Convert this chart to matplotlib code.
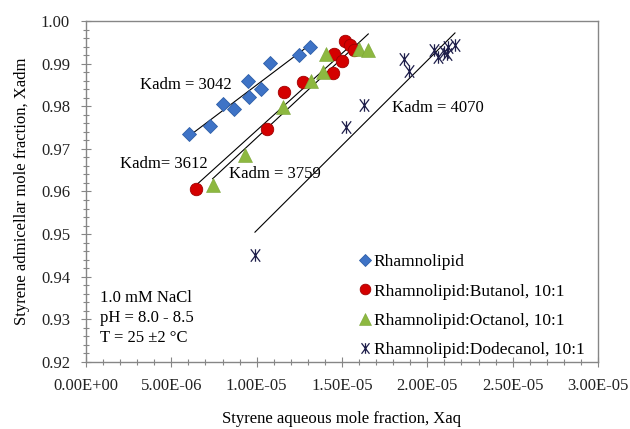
import numpy as np
import matplotlib
matplotlib.use('Agg')
import matplotlib.pyplot as plt
from matplotlib.path import Path
from matplotlib.ticker import MultipleLocator, FormatStrFormatter

# styrene aqueous (x) and admicellar (y) mole fractions
xaq_rl = [6.06e-6, 7.28e-6, 8.01e-6, 8.65e-6, 9.51e-6, 9.57e-6, 1.028e-5, 1.081e-5, 1.250e-5, 1.311e-5]
xadm_rl = [0.9735, 0.9754, 0.9805, 0.9793, 0.9860, 0.9821, 0.9841, 0.9901, 0.9921, 0.9940]

xaq_but = [6.44e-6, 1.063e-5, 1.160e-5, 1.273e-5, 1.449e-5, 1.453e-5, 1.498e-5, 1.517e-5, 1.547e-5, 1.573e-5]
xadm_but = [0.9607, 0.9747, 0.9833, 0.9858, 0.9878, 0.9923, 0.9906, 0.9954, 0.9944, 0.9931]

xaq_oct = [7.42e-6, 9.32e-6, 1.156e-5, 1.318e-5, 1.391e-5, 1.409e-5, 1.600e-5, 1.654e-5]
xadm_oct = [0.9615, 0.9686, 0.9798, 0.9859, 0.9880, 0.9923, 0.9934, 0.9933]

xaq_dod = [9.90e-6, 1.523e-5, 1.631e-5, 1.863e-5, 1.894e-5, 2.039e-5, 2.064e-5, 2.095e-5, 2.113e-5, 2.123e-5, 2.162e-5]
xadm_dod = [0.9451, 0.9751, 0.9803, 0.9911, 0.9883, 0.9931, 0.9916, 0.9928, 0.9923, 0.9940, 0.9944]

labels = ['Rhamnolipid', 'Rhamnolipid:Butanol, 10:1',
          'Rhamnolipid:Octanol, 10:1', 'Rhamnolipid:Dodecanol, 10:1']
kadm_text = ['Kadm = 3042', 'Kadm= 3612', 'Kadm = 3759', 'Kadm = 4070']
kadm_pos = [(3.16e-6, 0.9850), (1.99e-6, 0.9665), (8.38e-6, 0.9641), (1.793e-5, 0.9796)]
conditions = ['1.0 mM NaCl', 'pH = 8.0 - 8.5', 'T = 25 \u00b12 \u00b0C']

plt.rcParams['font.family'] = ['Liberation Serif', 'DejaVu Serif']

# excel style star marker: an X with a vertical bar
star = Path([(-0.75, -1), (0.75, 1), (-0.75, 1), (0.75, -1), (0, -1), (0, 1)],
            [Path.MOVETO, Path.LINETO, Path.MOVETO, Path.LINETO, Path.MOVETO, Path.LINETO])


def trendline(ax, x, y):
    # linear fit drawn over the data range
    k, b = np.polyfit(x, y, 1)
    xs = np.array([min(x), max(x)])
    ax.plot(xs, k * xs + b, color='black', lw=0.8, zorder=2)


fig = plt.figure(figsize=(6.3, 4.29), dpi=100)
ax = fig.add_axes([0.1365, 0.1562, 0.8127, 0.7949])

series = [(xaq_rl, xadm_rl), (xaq_but, xadm_but), (xaq_oct, xadm_oct), (xaq_dod, xadm_dod)]
for x, y in series:
    trendline(ax, x, y)

ax.plot(xaq_rl, xadm_rl, ls='none', marker='D', ms=7, mfc='#3E73C6', mec='#2E5EA8',
        mew=0.6, label=labels[0], zorder=3)
ax.plot(xaq_but, xadm_but, ls='none', marker='o', ms=9, mfc='#D40000', mec='#A00000',
        mew=0.6, label=labels[1], zorder=3)
ax.plot(xaq_oct, xadm_oct, ls='none', marker='^', ms=9.5, mfc='#8DB840', mec='#7AA535',
        mew=0.4, label=labels[2], zorder=3)
ax.plot(xaq_dod, xadm_dod, ls='none', marker=star, ms=9, mfc='none', mec='#1E1E4A',
        mew=0.9, label=labels[3], zorder=3)

for t, (tx, ty) in zip(kadm_text, kadm_pos):
    ax.text(tx, ty, t, fontsize=12, va='center', ha='left')

for i, t in enumerate(conditions):
    ax.text(8.2e-7, 0.9350 - i * 0.0047, t, fontsize=12, va='center', ha='left')

ax.set_xlim(0, 3.0e-5)
ax.set_ylim(0.92, 1.00)
ax.xaxis.set_major_locator(MultipleLocator(5e-6))
ax.xaxis.set_minor_locator(MultipleLocator(1e-6))
ax.yaxis.set_major_locator(MultipleLocator(0.01))
ax.yaxis.set_minor_locator(MultipleLocator(0.002))
ax.xaxis.set_major_formatter(FormatStrFormatter('%.2E'))
ax.yaxis.set_major_formatter(FormatStrFormatter('%.2f'))

for s in ax.spines.values():
    s.set_color('#868686')
    s.set_linewidth(1.0)
ax.tick_params(which='major', direction='inout', length=7, width=0.8, color='#868686',
               labelsize=12, labelcolor='#222222', pad=8)
ax.tick_params(which='minor', direction='inout', length=4, width=0.8, color='#868686')

ax.set_xlabel('Styrene aqueous mole fraction, Xaq', fontsize=12, labelpad=12)
ax.set_ylabel('Styrene admicellar mole fraction, Xadm', fontsize=12, labelpad=8)

ax.legend(loc='upper left', bbox_to_anchor=(0.535, 0.316), frameon=False, fontsize=12.5,
          handlelength=0.6, handletextpad=0.2, labelspacing=0.75, borderpad=0,
          borderaxespad=0, markerscale=0.85)

fig.savefig('out.png', dpi=100)
